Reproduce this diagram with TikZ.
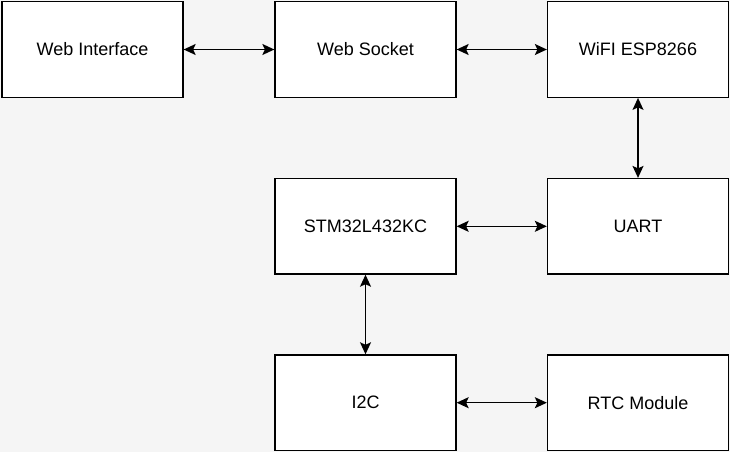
\documentclass[tikz,border=0pt]{standalone}
\usepackage{fontspec}
\setmainfont{Liberation Sans}
\usetikzlibrary{arrows.meta}
\definecolor{bgc}{HTML}{F5F5F5}
\begin{document}
\begin{tikzpicture}[x=1pt,y=-1pt,
  blk/.style={draw=black, fill=white, line width=1.3pt, minimum width=181pt, minimum height=95.5pt, inner sep=0pt, font=\fontsize{18}{21}\selectfont},
  link/.style={line width=1.4pt, {Stealth[length=12pt,width=11pt,inset=2.5pt]}-{Stealth[length=12pt,width=11pt,inset=2.5pt]}}]
\fill[bgc] (0,0) rectangle (730,452);
\useasboundingbox (0,0) rectangle (730,452);
\node[blk] (wi) at (92.5,49.5) {Web Interface};
\node[blk] (ws) at (365.5,49.5) {Web Socket};
\node[blk] (wf) at (638,49.5) {WiFI ESP8266};
\node[blk] (stm) at (365.5,226.3) {STM32L432KC};
\node[blk] (uart) at (638,226.3) {UART};
\node[blk] (i2c) at (365.5,402.7) {I2C};
\node[blk] (rtc) at (638,402.7) {RTC Module};
\draw[link] (wi) -- (ws);
\draw[link] (ws) -- (wf);
\draw[link] (wf) -- (uart);
\draw[link] (stm) -- (uart);
\draw[link] (stm) -- (i2c);
\draw[link] (i2c) -- (rtc);
\end{tikzpicture}
\end{document}
